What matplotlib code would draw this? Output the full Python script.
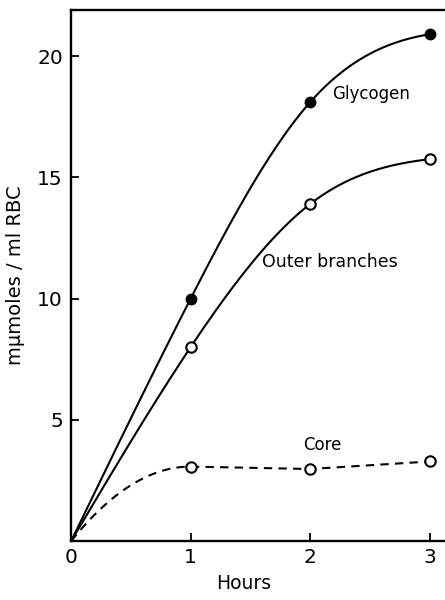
import matplotlib
matplotlib.use("Agg")
import matplotlib.pyplot as plt
import numpy as np

hours = [0, 1, 2, 3]
glycogen = [0, 10.0, 18.1, 20.9]
outer_branches = [0, 8.0, 13.9, 15.75]
core = [0, 3.07, 2.97, 3.28]

x_ticks = [0, 1, 2, 3]
y_ticks = [5, 10, 15, 20]

plt.rcParams["font.family"] = ["DejaVu Sans"]


def spline(xs, ys, end_slope, n=200):
    # cubic spline through the measured points (natural at left, fixed slope at right),
    # used only to draw the hand-drawn style curve
    xs = np.asarray(xs, float)
    ys = np.asarray(ys, float)
    k = len(xs)
    h = np.diff(xs)
    d = np.diff(ys) / h
    A = np.zeros((k, k))
    b = np.zeros(k)
    A[0, 0] = 1
    for i in range(1, k - 1):
        A[i, i - 1] = h[i - 1]
        A[i, i] = 2 * (h[i - 1] + h[i])
        A[i, i + 1] = h[i]
        b[i] = 6 * (d[i] - d[i - 1])
    A[-1, -2] = h[-1]
    A[-1, -1] = 2 * h[-1]
    b[-1] = 6 * (end_slope - d[-1])
    M = np.linalg.solve(A, b)
    xx = np.linspace(xs[0], xs[-1], n)
    i = np.clip(np.searchsorted(xs, xx) - 1, 0, k - 2)
    hi = h[i]
    a = xs[i + 1] - xx
    c = xx - xs[i]
    yy = (M[i] * a ** 3 + M[i + 1] * c ** 3) / (6 * hi) \
        + (ys[i] / hi - M[i] * hi / 6) * a + (ys[i + 1] / hi - M[i + 1] * hi / 6) * c
    return xx, yy


fig = plt.figure(figsize=(4.45, 6.0), dpi=100)
ax = fig.add_axes([0.16, 0.0983, 0.8404, 0.885])

lw = 1.5
xx, yy = spline(hours, glycogen, 0.8)
ax.plot(xx, yy, color="black", lw=lw)
ax.plot(hours[1:], glycogen[1:], "o", color="black", ms=7.5)

xx, yy = spline(hours, outer_branches, 0.6)
ax.plot(xx, yy, color="black", lw=lw)
ax.plot(hours[1:], outer_branches[1:], "o", mfc="white", mec="black", mew=1.5, ms=7.5)

# core: rising curve to 1 h, then flat dashes
t = np.linspace(0, 1, 60)
c1 = core[1] * (2 * t - t ** 2)
cx = np.concatenate([t, hours[2:]])
cy = np.concatenate([c1, core[2:]])
ax.plot(cx, cy, color="black", lw=lw, ls=(0, (4, 3)))
ax.plot(hours[1:], core[1:], "o", mfc="white", mec="black", mew=1.5, ms=7.5)

ax.text(2.18, 18.45, "Glycogen", fontsize=12, ha="left", va="center")
ax.text(1.6, 11.5, "Outer branches", fontsize=12.5, ha="left", va="center")
ax.text(1.94, 3.97, "Core", fontsize=12, ha="left", va="center")

ax.set_xlim(0, 3.13)
ax.set_ylim(0, 21.9)
ax.set_xticks(x_ticks)
ax.set_yticks(y_ticks)
ax.tick_params(direction="in", length=6, width=1.3, labelsize=14.5)
ax.tick_params(axis="y", pad=6)
ax.tick_params(axis="x", pad=5)
ax.spines["right"].set_visible(False)
for s in ["left", "bottom", "top"]:
    ax.spines[s].set_linewidth(1.7)

ax.set_xlabel("Hours", fontsize=13.5)
ax.xaxis.set_label_coords((243 - 71) / 374, -0.062)
ax.set_ylabel("m\u03bcmoles / ml RBC", fontsize=14)
ax.yaxis.set_label_coords(-0.123, 0.5)

fig.savefig("out.png", dpi=100)
